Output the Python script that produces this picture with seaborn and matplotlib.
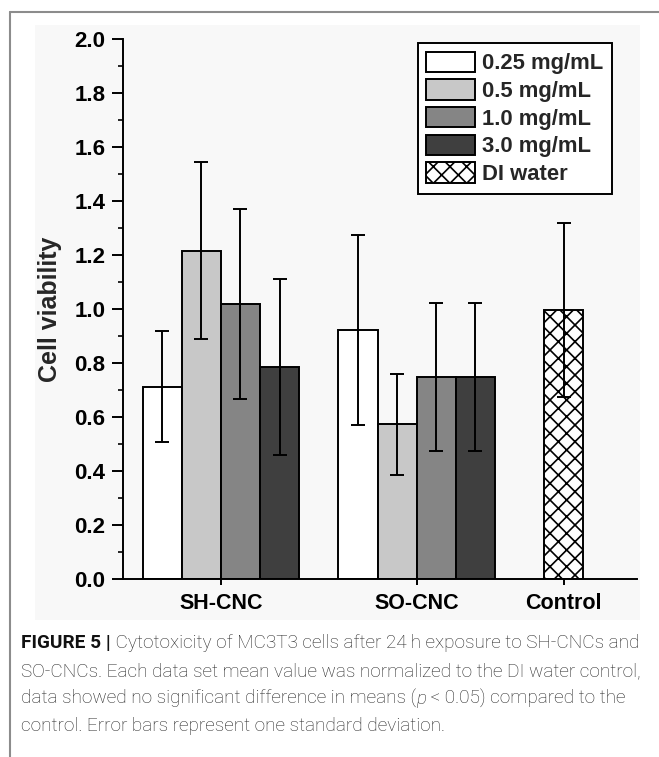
import numpy as np
import pandas as pd
import matplotlib
matplotlib.use("Agg")
import matplotlib.pyplot as plt
import seaborn as sns
from matplotlib.patches import Rectangle
from matplotlib.lines import Line2D
from matplotlib.ticker import MultipleLocator, FixedLocator
from matplotlib import font_manager as fm

# ---------------- data ----------------
groups = ["SH-CNC", "SO-CNC"]
concentrations = ["0.25 mg/mL", "0.5 mg/mL", "1.0 mg/mL", "3.0 mg/mL"]
sh_mean = [0.712, 1.216, 1.018, 0.784]
sh_sd = [0.206, 0.327, 0.352, 0.326]
so_mean = [0.922, 0.573, 0.749, 0.749]
so_sd = [0.353, 0.186, 0.274, 0.274]
control_group = "Control"
control_series = "DI water"
control_mean = [0.997]
control_sd = [0.322]
y_tick_values = [0.0, 0.2, 0.4, 0.6, 0.8, 1.0, 1.2, 1.4, 1.6, 1.8, 2.0]
y_label = "Cell viability"

caption_lines = [
    [("FIGURE 5 |", "bold"), (" Cytotoxicity of MC3T3 cells after 24\u2009h exposure to SH-CNCs and", "normal")],
    [("SO-CNCs. Each data set mean value was normalized to the DI water control,", "normal")],
    [("data showed no significant difference in means (", "normal"), ("p", "italic"),
     (" < 0.05) compared to the", "normal")],
    [("control. Error bars represent one standard deviation.", "normal")],
]

# ---------------- layout / style ----------------
W, H = 659, 757
slot = {"SH-CNC": 0, "SO-CNC": 4, "Control": 7}   # uneven category spacing on native scale
colors = {"0.25 mg/mL": "#ffffff", "0.5 mg/mL": "#c8c8c8",
          "1.0 mg/mL": "#858585", "3.0 mg/mL": "#3f3f3f"}

sns.set_style("ticks")
plt.rcParams["font.family"] = ["Liberation Sans", "DejaVu Sans"]
plt.rcParams["hatch.linewidth"] = 1.2
plt.rcParams["axes.linewidth"] = 1.4

rows = []
for g, means, sds in [(groups[0], sh_mean, sh_sd), (groups[1], so_mean, so_sd)]:
    for c, m, s in zip(concentrations, means, sds):
        rows.append({"group": g, "conc": c, "mean": m, "sd": s, "pos": slot[g]})
df_cnc = pd.DataFrame(rows)
df_ctrl = pd.DataFrame({"group": [control_group], "conc": [control_series],
                        "mean": control_mean, "sd": control_sd,
                        "pos": [slot[control_group]]})
sd_lookup = {(r.pos, r.conc): r.sd for r in pd.concat([df_cnc, df_ctrl]).itertuples()}

fig = plt.figure(figsize=(W / 100, H / 100), dpi=100)
fig.patch.set_facecolor("white")

# panel background and outer frame
fig.patches.append(Rectangle((35 / W, 1 - 620 / H), 605 / W, 595 / H, transform=fig.transFigure,
                             facecolor="#f8f8f8", edgecolor="none", zorder=-10))
fig.lines.append(Line2D([10 / W, 10 / W], [0, 1 - 12 / H], transform=fig.transFigure,
                        color="#8c8c8c", lw=1.5))
fig.lines.append(Line2D([10 / W, 1], [1 - 12 / H, 1 - 12 / H], transform=fig.transFigure,
                        color="#8c8c8c", lw=1.5))

ax = fig.add_axes([123 / W, 1 - 579 / H, 514 / W, 540 / H])
ax.set_facecolor("none")

sns.barplot(data=df_cnc, x="pos", y="mean", hue="conc", hue_order=concentrations,
            palette=colors, native_scale=True, width=0.8, errorbar=None,
            edgecolor="black", linewidth=1.4, saturation=1, legend=False, ax=ax)
sns.barplot(data=df_ctrl, x="pos", y="mean", hue="conc", palette={control_series: "white"},
            native_scale=True, width=0.8, errorbar=None, edgecolor="black",
            linewidth=1.4, saturation=1, hatch="xx", legend=False, ax=ax)

bar_containers = list(ax.containers)
handles = [c.patches[0] for c in bar_containers]
labels = concentrations + [control_series]

# error bars (one standard deviation)
for c, lab in zip(bar_containers, labels):
    for p in c.patches:
        cx = p.get_x() + p.get_width() / 2
        pos = min(slot.values(), key=lambda v: abs(v - cx))
        sd = sd_lookup[(pos, lab)]
        ax.errorbar(cx, p.get_height(), yerr=sd, fmt="none", ecolor="black",
                    elinewidth=1.4, capsize=4.7, capthick=1.4, zorder=5)

ax.set_xlim(-2.0, 8.5)
ax.set_ylim(0, 2.0)
ax.set_xticks([slot[g] for g in groups] + [slot[control_group]])
ax.set_xticklabels(groups + [control_group], fontsize=15.5, fontweight="bold")
ax.yaxis.set_major_locator(FixedLocator(y_tick_values))
ax.set_yticklabels([f"{v:.1f}" for v in y_tick_values], fontsize=16, fontweight="bold")
ax.yaxis.set_minor_locator(MultipleLocator(0.1))
ax.tick_params(axis="y", which="major", direction="out", length=7.7, width=1.4, pad=5, colors="black")
ax.tick_params(axis="y", which="minor", direction="out", length=3.6, width=1.4)
ax.tick_params(axis="x", which="major", direction="inout", length=8, width=1.4, pad=6, colors="black")
ax.set_xlabel("")
ax.set_ylabel(y_label, fontsize=18, fontweight="bold")
ax.yaxis.set_label_coords(-0.118, 0.5)
for s in ["top", "right"]:
    ax.spines[s].set_visible(False)
for s in ["left", "bottom"]:
    ax.spines[s].set_color("black")
    ax.spines[s].set_linewidth(1.4)

leg = ax.legend(handles, labels, loc="upper right", bbox_to_anchor=(0.951, 0.993),
                borderaxespad=0, frameon=True, fancybox=False, shadow=False,
                prop={"weight": "bold", "size": 15.8}, handlelength=2.2, handleheight=1.05,
                handletextpad=0.32, labelspacing=0.23, borderpad=0.4)
leg.get_frame().set_edgecolor("black")
leg.get_frame().set_linewidth(1.4)
leg.get_frame().set_facecolor("white")
leg.get_frame().set_alpha(1)

# ---------------- caption ----------------
names = {f.name for f in fm.fontManager.ttflist}
light_roboto = [f for f in fm.fontManager.ttflist if f.name == "Roboto" and f.weight in (300, "light")]
if light_roboto:
    cap_family, cap_weight = "Roboto", "light"
elif "Roboto" in names:
    cap_family, cap_weight = "Roboto", "normal"
else:
    cap_family, cap_weight = "Liberation Sans", "normal"

fig.canvas.draw()
renderer = fig.canvas.get_renderer()

probe = fig.text(0, 0, caption_lines[1][0][0], fontsize=12, family=cap_family, weight=cap_weight)
w = probe.get_window_extent(renderer=renderer).width
probe.remove()
cap_size = 12 * 619 / w

baselines = [648, 676, 704, 731]
for line, base in zip(caption_lines, baselines):
    x = 21.0
    for txt, style in line:
        kw = dict(fontsize=cap_size, va="baseline", ha="left", family=cap_family, color="#262626",
                  weight=cap_weight)
        if style == "bold":
            kw.update(weight="bold", family=["Roboto", "Liberation Sans"], color="#111111")
        elif style == "italic":
            kw.update(style="italic")
        t = fig.text(x / W, 1 - base / H, txt, **kw)
        x = t.get_window_extent(renderer=renderer).x1

fig.savefig("out.png", dpi=100, facecolor="white")
